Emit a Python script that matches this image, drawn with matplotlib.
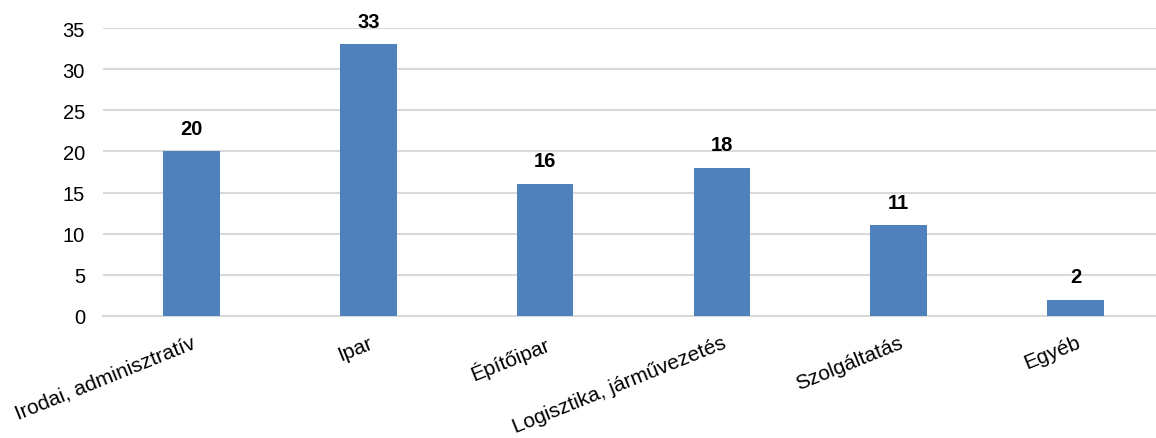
import matplotlib.pyplot as plt

# Foglalkoztatási területek megoszlása
kategoriak = ['Irodai, adminisztratív', 'Ipar', 'Építőipar',
              'Logisztika, járművezetés', 'Szolgáltatás', 'Egyéb']
ertekek = [20, 33, 16, 18, 11, 2]
y_tickek = [0, 5, 10, 15, 20, 25, 30, 35]

plt.rcParams['font.family'] = ['Liberation Sans', 'DejaVu Sans']

fig = plt.figure(figsize=(11.56, 4.39), dpi=100)
ax = fig.add_axes([103 / 1156, 122 / 439, 1061 / 1156, 288 / 439])

x = range(len(kategoriak))
bars = ax.bar(x, ertekek, width=0.32, color='#4F81BD', zorder=3)

for b, v in zip(bars, ertekek):
    ax.annotate(str(v), (b.get_x() + b.get_width() / 2, v),
                xytext=(0, 10), textcoords='offset points',
                ha='center', va='bottom', fontsize=14.5, fontweight='bold')

ax.set_xlim(-0.5, len(kategoriak) - 0.5)
ax.set_ylim(0, 35)
ax.set_yticks(y_tickek)
ax.yaxis.grid(True, color='#D9D9D9', linewidth=1.5, zorder=0)
ax.set_axisbelow(True)

ax.set_xticks(list(x))
ax.set_xticklabels(kategoriak, rotation=22, ha='right', rotation_mode='anchor',
                   fontsize=15)
ax.tick_params(axis='both', length=0)
ax.tick_params(axis='y', pad=13, labelsize=14.5)
ax.tick_params(axis='x', pad=12)

for s in ['top', 'right', 'left']:
    ax.spines[s].set_visible(False)
ax.spines['bottom'].set_color('#D9D9D9')
ax.spines['bottom'].set_linewidth(1.5)

plt.savefig('out.png', dpi=100)
